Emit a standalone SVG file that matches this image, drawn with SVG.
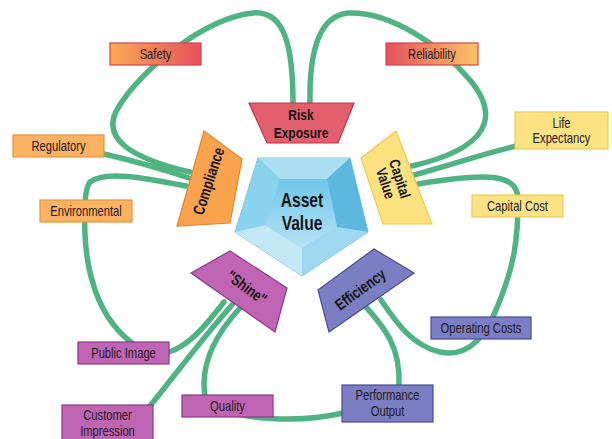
<svg xmlns="http://www.w3.org/2000/svg" width="612" height="439" viewBox="0 0 612 439">
<defs>
<style>
.c{fill:none;stroke:#4fb383;stroke-width:5.5;stroke-linecap:round}
.lb{font-family:"Liberation Sans",Arial,sans-serif;font-size:14px;fill:#1e1a1a;text-anchor:middle}
.hd{font-family:"Liberation Sans",Arial,sans-serif;font-weight:bold;font-size:16px;fill:#141414;text-anchor:middle}
.or{fill:#fbb263;stroke:#e8943a;stroke-width:1.2}
.ye{fill:#fde283;stroke:#efcb55;stroke-width:1.2}
.pu{fill:#c064b4;stroke:#8c3a8a;stroke-width:1.2}
.bl{fill:#7b7ec2;stroke:#474c99;stroke-width:1.2}
</style>
<linearGradient id="gSafety" x1="0" y1="0" x2="1" y2="0"><stop offset="0" stop-color="#f9aa52"/><stop offset="1" stop-color="#e5515f"/></linearGradient>
<linearGradient id="gRel" x1="0" y1="0" x2="1" y2="0"><stop offset="0" stop-color="#e5515f"/><stop offset="1" stop-color="#fcc465"/></linearGradient>
<linearGradient id="gIn" x1="0" y1="0" x2="0" y2="1"><stop offset="0" stop-color="#6cc6ea"/><stop offset="1" stop-color="#b6e3f5"/></linearGradient>
</defs>

<g id="connectors">
<path class="c" d="M190,172 C130,158 100,138 118,108 C140,70 205,18 253,13 C286,10 293,50 293,104"/>
<path class="c" d="M310,104 C309,55 318,16 348,13 C390,11 440,45 470,80 C500,116 490,148 412,166"/>
<path class="c" d="M104,154 C130,160 160,168 189,178"/>
<path class="c" d="M186,186 C145,178 105,170 90,182 C82,192 83,250 92,280 C100,310 115,330 132,343"/>
<path class="c" d="M169,352 C190,345 205,326 224,302"/>
<path class="c" d="M150,406 C175,375 205,335 232,305"/>
<path class="c" d="M240,308 C215,335 200,365 205,396 C212,412 250,419 290,419 C315,419 330,416 343,413"/>
<path class="c" d="M366,307 C382,325 401,345 399,386"/>
<path class="c" d="M381,300 C396,322 412,346 440,352 C470,358 487,335 500,300 C514,265 518,240 518,200 C518,174 490,172 418,184"/>
<path class="c" d="M516,146 C480,155 450,165 414,175"/>
</g>

<g id="asset-value">
<polygon points="258,158 350,158 368,232 302,276 235,232" fill="#7fcdea" stroke="#6bbfe0" stroke-width="1"/>
<polygon points="258,158 350,158 327,179 280,179" fill="#a9def3"/>
<polygon points="350,158 368,232 337,227 327,179" fill="#5cb8df"/>
<polygon points="368,232 302,276 302,248 337,227" fill="#9fd8f0"/>
<polygon points="302,276 235,232 265,225 302,248" fill="#c3e9f7"/>
<polygon points="235,232 258,158 280,179 265,225" fill="#8ad2ee"/>
<polygon points="280,179 327,179 337,227 302,248 265,225" fill="url(#gIn)"/>
<text class="hd" transform="translate(302,207) scale(0.78,1)" style="font-size:20px">Asset</text>
<text class="hd" transform="translate(302,230) scale(0.78,1)" style="font-size:20px">Value</text>
</g>

<g id="risk-exposure">
<polygon points="249,103 354,103 338,143 267,143" fill="#e2606d" stroke="#c23446" stroke-width="1.2"/>
<text class="hd" transform="translate(301,120) scale(0.8,1)" style="font-size:15px">Risk</text>
<text class="hd" transform="translate(301,137.5) scale(0.8,1)" style="font-size:15px">Exposure</text>
</g>

<g id="compliance">
<polygon points="204,131 242,159 230,223 177,226" fill="#f9a34e" stroke="#e4862a" stroke-width="1.2"/>
<text class="hd" transform="translate(208,181) rotate(-72) scale(0.77,1)" x="0" y="6">Compliance</text>
</g>

<g id="capital-value">
<polygon points="396,131 361,158 383,224 432,224" fill="#fbe27e" stroke="#efc850" stroke-width="1.2"/>
<g transform="translate(393,181) rotate(72) scale(0.8,1)">
<text class="hd" x="0" y="-2" style="font-size:15px">Capital</text>
<text class="hd" x="0" y="13" style="font-size:15px">Value</text>
</g>
</g>

<g id="shine">
<polygon points="230,251 287,288 275,332 191,273" fill="#c064b4" stroke="#8c3a8a" stroke-width="1.2"/>
<text class="hd" transform="translate(247,287) rotate(36) scale(0.77,1)" x="0" y="6">"Shine"</text>
</g>

<g id="efficiency">
<polygon points="374,249 414,273 329,332 318,290" fill="#7b7ec2" stroke="#474c99" stroke-width="1.2"/>
<text class="hd" transform="translate(360,289) rotate(-36) scale(0.77,1)" x="0" y="6">Efficiency</text>
</g>

<g id="safety">
<rect x="110" y="43" width="91" height="22" fill="url(#gSafety)" stroke="#d8404f" stroke-width="1.2"/>
<text class="lb" transform="translate(155.5,59) scale(0.8,1)">Safety</text>
</g>
<g id="reliability">
<rect x="386" y="43" width="92" height="22" fill="url(#gRel)" stroke="#d8404f" stroke-width="1.2"/>
<text class="lb" transform="translate(432,59) scale(0.8,1)">Reliability</text>
</g>
<g id="regulatory">
<rect class="or" x="13" y="135" width="91" height="22"/>
<text class="lb" transform="translate(58.5,151) scale(0.8,1)">Regulatory</text>
</g>
<g id="environmental">
<rect class="or" x="40" y="200" width="92" height="22"/>
<text class="lb" transform="translate(86,216) scale(0.8,1)">Environmental</text>
</g>
<g id="life-expectancy">
<rect class="ye" x="515" y="112" width="93" height="37"/>
<text class="lb" transform="translate(561.5,128) scale(0.8,1)">Life</text>
<text class="lb" transform="translate(561.5,143) scale(0.8,1)">Expectancy</text>
</g>
<g id="capital-cost">
<rect class="ye" x="472" y="195" width="91" height="22"/>
<text class="lb" transform="translate(517.5,211) scale(0.8,1)">Capital Cost</text>
</g>
<g id="operating-costs">
<rect class="bl" x="431" y="317" width="100" height="22"/>
<text class="lb" transform="translate(481,333) scale(0.8,1)">Operating Costs</text>
</g>
<g id="performance-output">
<rect class="bl" x="342" y="385" width="91" height="37"/>
<text class="lb" transform="translate(387.5,400) scale(0.8,1)">Performance</text>
<text class="lb" transform="translate(387.5,416) scale(0.8,1)">Output</text>
</g>
<g id="public-image">
<rect class="pu" x="78" y="342" width="91" height="22"/>
<text class="lb" transform="translate(123.5,358) scale(0.8,1)">Public Image</text>
</g>
<g id="quality">
<rect class="pu" x="182" y="395" width="91" height="22"/>
<text class="lb" transform="translate(227.5,411) scale(0.8,1)">Quality</text>
</g>
<g id="customer-impression">
<rect class="pu" x="62" y="405" width="91" height="37"/>
<text class="lb" transform="translate(107.5,420) scale(0.8,1)">Customer</text>
<text class="lb" transform="translate(107.5,436) scale(0.8,1)">Impression</text>
</g>
</svg>
